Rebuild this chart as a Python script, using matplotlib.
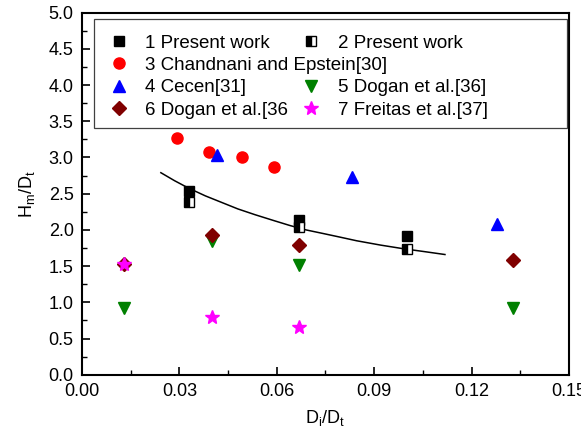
import matplotlib
matplotlib.use("Agg")
import matplotlib.pyplot as plt
from matplotlib.lines import Line2D
from matplotlib.patches import Rectangle
from matplotlib.ticker import MultipleLocator, FormatStrFormatter

plt.rcParams['font.family'] = ['Liberation Sans', 'DejaVu Sans']
plt.rcParams['mathtext.default'] = 'regular'

# ---- data ----
s1_x = [0.0329, 0.0667, 0.1000]
s1_y = [2.54, 2.14, 1.91]
s2_x = [0.0329, 0.0667, 0.1000]
s2_y = [2.38, 2.04, 1.74]
s3_x = [0.0294, 0.0392, 0.0492, 0.0590]
s3_y = [3.27, 3.08, 3.00, 2.87]
s4_x = [0.0415, 0.0832, 0.1278]
s4_y = [3.03, 2.73, 2.08]
s5_x = [0.0128, 0.0399, 0.0668, 0.1328]
s5_y = [0.92, 1.85, 1.52, 0.92]
s6_x = [0.0128, 0.0399, 0.0668, 0.1328]
s6_y = [1.53, 1.93, 1.79, 1.59]
s7_x = [0.0128, 0.0399, 0.0668]
s7_y = [1.53, 0.80, 0.66]
fit_x = [0.0243, 0.0285, 0.0327, 0.0380, 0.0430, 0.0480, 0.0533, 0.0590, 0.0641,
         0.0690, 0.0743, 0.0795, 0.0846, 0.0920, 0.0990, 0.1055, 0.1118]
fit_y = [2.79, 2.68, 2.58, 2.47, 2.38, 2.29, 2.21, 2.13, 2.06,
         2.00, 1.95, 1.90, 1.85, 1.79, 1.74, 1.70, 1.66]

labels = ["1 Present work", "2 Present work", "3 Chandnani and Epstein[30]",
          "4 Cecen[31]", "5 Dogan et al.[36]", "6 Dogan et al.[36", "7 Freitas et al.[37]"]

fig = plt.figure(figsize=(5.81, 4.33), dpi=100)
ax = fig.add_axes([0.1411, 0.1346, 0.8382, 0.8361])

ax.plot(fit_x, fit_y, color='black', lw=1.1, zorder=2)
h1, = ax.plot(s1_x, s1_y, 's', color='black', ms=7, mec='black', zorder=3)
h2, = ax.plot(s2_x, s2_y, 's', ms=7, fillstyle='left', mfc='black', mfcalt='white',
              mec='black', mew=1.0, zorder=3)
h3, = ax.plot(s3_x, s3_y, 'o', color='red', ms=8, zorder=3)
h4, = ax.plot(s4_x, s4_y, '^', color='blue', ms=8.5, zorder=3)
h5, = ax.plot(s5_x, s5_y, 'v', color='green', ms=8.5, zorder=3)
h6, = ax.plot(s6_x, s6_y, 'D', color='#800000', ms=7, zorder=3)
h7, = ax.plot(s7_x, s7_y, '*', color='magenta', ms=10, zorder=3)

ax.set_xlim(0.0, 0.15)
ax.set_ylim(0.0, 5.0)
ax.xaxis.set_major_locator(MultipleLocator(0.03))
ax.xaxis.set_minor_locator(MultipleLocator(0.015))
ax.yaxis.set_major_locator(MultipleLocator(0.5))
ax.yaxis.set_minor_locator(MultipleLocator(0.25))
ax.xaxis.set_major_formatter(FormatStrFormatter('%.2f'))
ax.yaxis.set_major_formatter(FormatStrFormatter('%.1f'))
ax.tick_params(which='both', direction='in', labelsize=13, top=False, right=False)
ax.tick_params(which='major', length=6, width=1.2, pad=6)
ax.tick_params(which='minor', length=3.5, width=1.0)
for sp in ax.spines.values():
    sp.set_linewidth(1.5)

ax.set_xlabel("D$_i$/D$_t$", fontsize=13, labelpad=6)
ax.set_ylabel("H$_m$/D$_t$", fontsize=13, labelpad=8)

# legend frame
ax.add_patch(Rectangle((0.0246, 0.682), 0.9714, 0.3006, transform=ax.transAxes,
                       fill=True, facecolor='white', edgecolor='#404040', lw=0.9, zorder=4))
blank = Line2D([], [], linestyle='none', marker=None)
common = dict(loc='upper left', frameon=False, fontsize=13.5, handlelength=1.0,
              handletextpad=0.9, labelspacing=0.28, borderpad=0.0,
              borderaxespad=0, numpoints=1)
leg1 = ax.legend([h1, h3, h4, h6], [labels[0], labels[2], labels[3], labels[5]],
                 bbox_to_anchor=(0.056, 0.940), **common)
leg1.set_zorder(5)
ax.add_artist(leg1)
leg2 = ax.legend([h2, blank, h5, h7], [labels[1], " ", labels[4], labels[6]],
                 bbox_to_anchor=(0.452, 0.940), **common)
leg2.set_zorder(5)

fig.savefig("out.png", dpi=100)
